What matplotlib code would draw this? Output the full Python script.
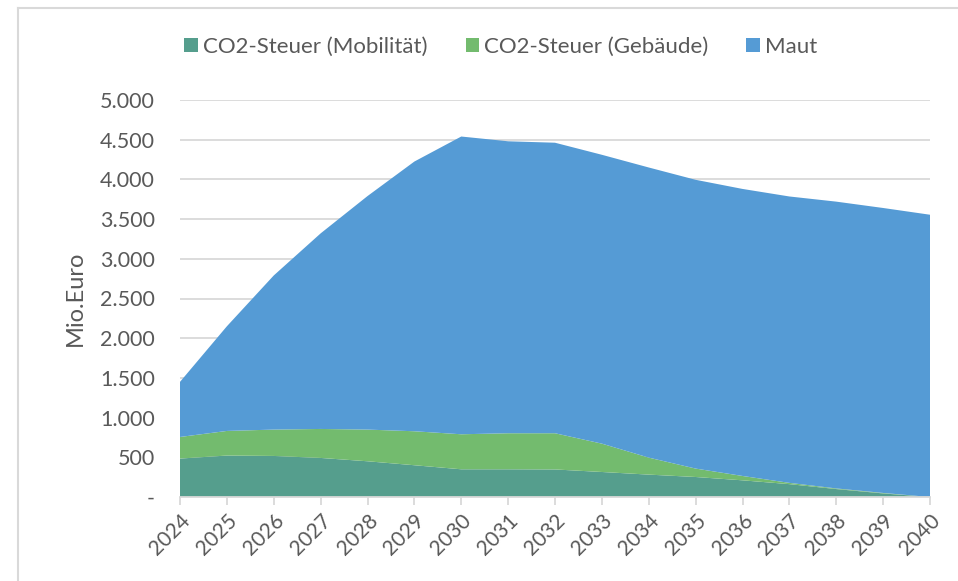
import matplotlib
matplotlib.use("Agg")
import matplotlib.pyplot as plt
from matplotlib.lines import Line2D
from matplotlib.patches import Patch

plt.rcParams["font.family"] = ["Lato", "DejaVu Sans"]

# Data (Mio. Euro)
years = list(range(2024, 2041))
mobilitaet = [484, 522, 517, 492, 450, 400, 349, 349, 347, 315, 282, 252, 210, 162, 100, 45, 0]
gebaeude = [272, 310, 332, 365, 399, 428, 441, 454, 456, 357, 214, 106, 55, 16, 8, 6, 0]
total = [1450, 2150, 2790, 3320, 3790, 4225, 4540, 4480, 4462, 4310, 4150, 3995, 3880, 3785, 3720, 3640, 3555]
maut = [t - m - g for t, m, g in zip(total, mobilitaet, gebaeude)]

labels = ["CO2-Steuer (Mobilität)", "CO2-Steuer (Gebäude)", "Maut"]
colors = ["#559E8D", "#73BB6E", "#559BD5"]
text_color = "#595959"
grid_color = "#D9D9D9"

fig = plt.figure(figsize=(9.58, 5.81), dpi=100)
ax = fig.add_axes([180 / 958, 84 / 581, 750 / 958, 397 / 581])

ax.stackplot(years, mobilitaet, gebaeude, maut, colors=colors, linewidth=0)

ax.set_xlim(2024, 2040)
ax.set_ylim(0, 5000)
ax.set_yticks(range(0, 5001, 500))
ax.set_yticklabels(["-"] + [f"{v:,}".replace(",", ".") for v in range(500, 5001, 500)])
ax.set_xticks(years)
ax.set_xticklabels([str(y) for y in years], rotation=45, ha="right", rotation_mode="anchor")

ax.grid(axis="y", color=grid_color, linewidth=1.3)
ax.set_axisbelow(True)
for s in ["top", "right", "left"]:
    ax.spines[s].set_visible(False)
ax.spines["bottom"].set_color(grid_color)
ax.spines["bottom"].set_linewidth(1.3)
ax.tick_params(axis="y", length=0, pad=18, labelsize=15.5, labelcolor=text_color)
ax.tick_params(axis="x", length=6, width=1.3, color=grid_color, labelsize=15,
               labelcolor=text_color, pad=4)

ax.set_ylabel("Mio.Euro", fontsize=17, color=text_color, labelpad=10)

handles = [Patch(facecolor=c, edgecolor="none") for c in colors]
fig.legend(handles, labels, loc="center", bbox_to_anchor=(501 / 958, 1 - 47 / 581),
           ncol=3, frameon=False, fontsize=16, labelcolor=text_color,
           handlelength=0.6, handleheight=0.6, handletextpad=0.25, columnspacing=1.7)

# chart frame (cropped at right and bottom)
fig.add_artist(Line2D([18 / 958, 18 / 958], [0, 1 - 8 / 581], color=grid_color, linewidth=1.5))
fig.add_artist(Line2D([18 / 958, 1], [1 - 8 / 581, 1 - 8 / 581], color=grid_color, linewidth=1.5))

fig.savefig("out.png", dpi=100, facecolor="white")
